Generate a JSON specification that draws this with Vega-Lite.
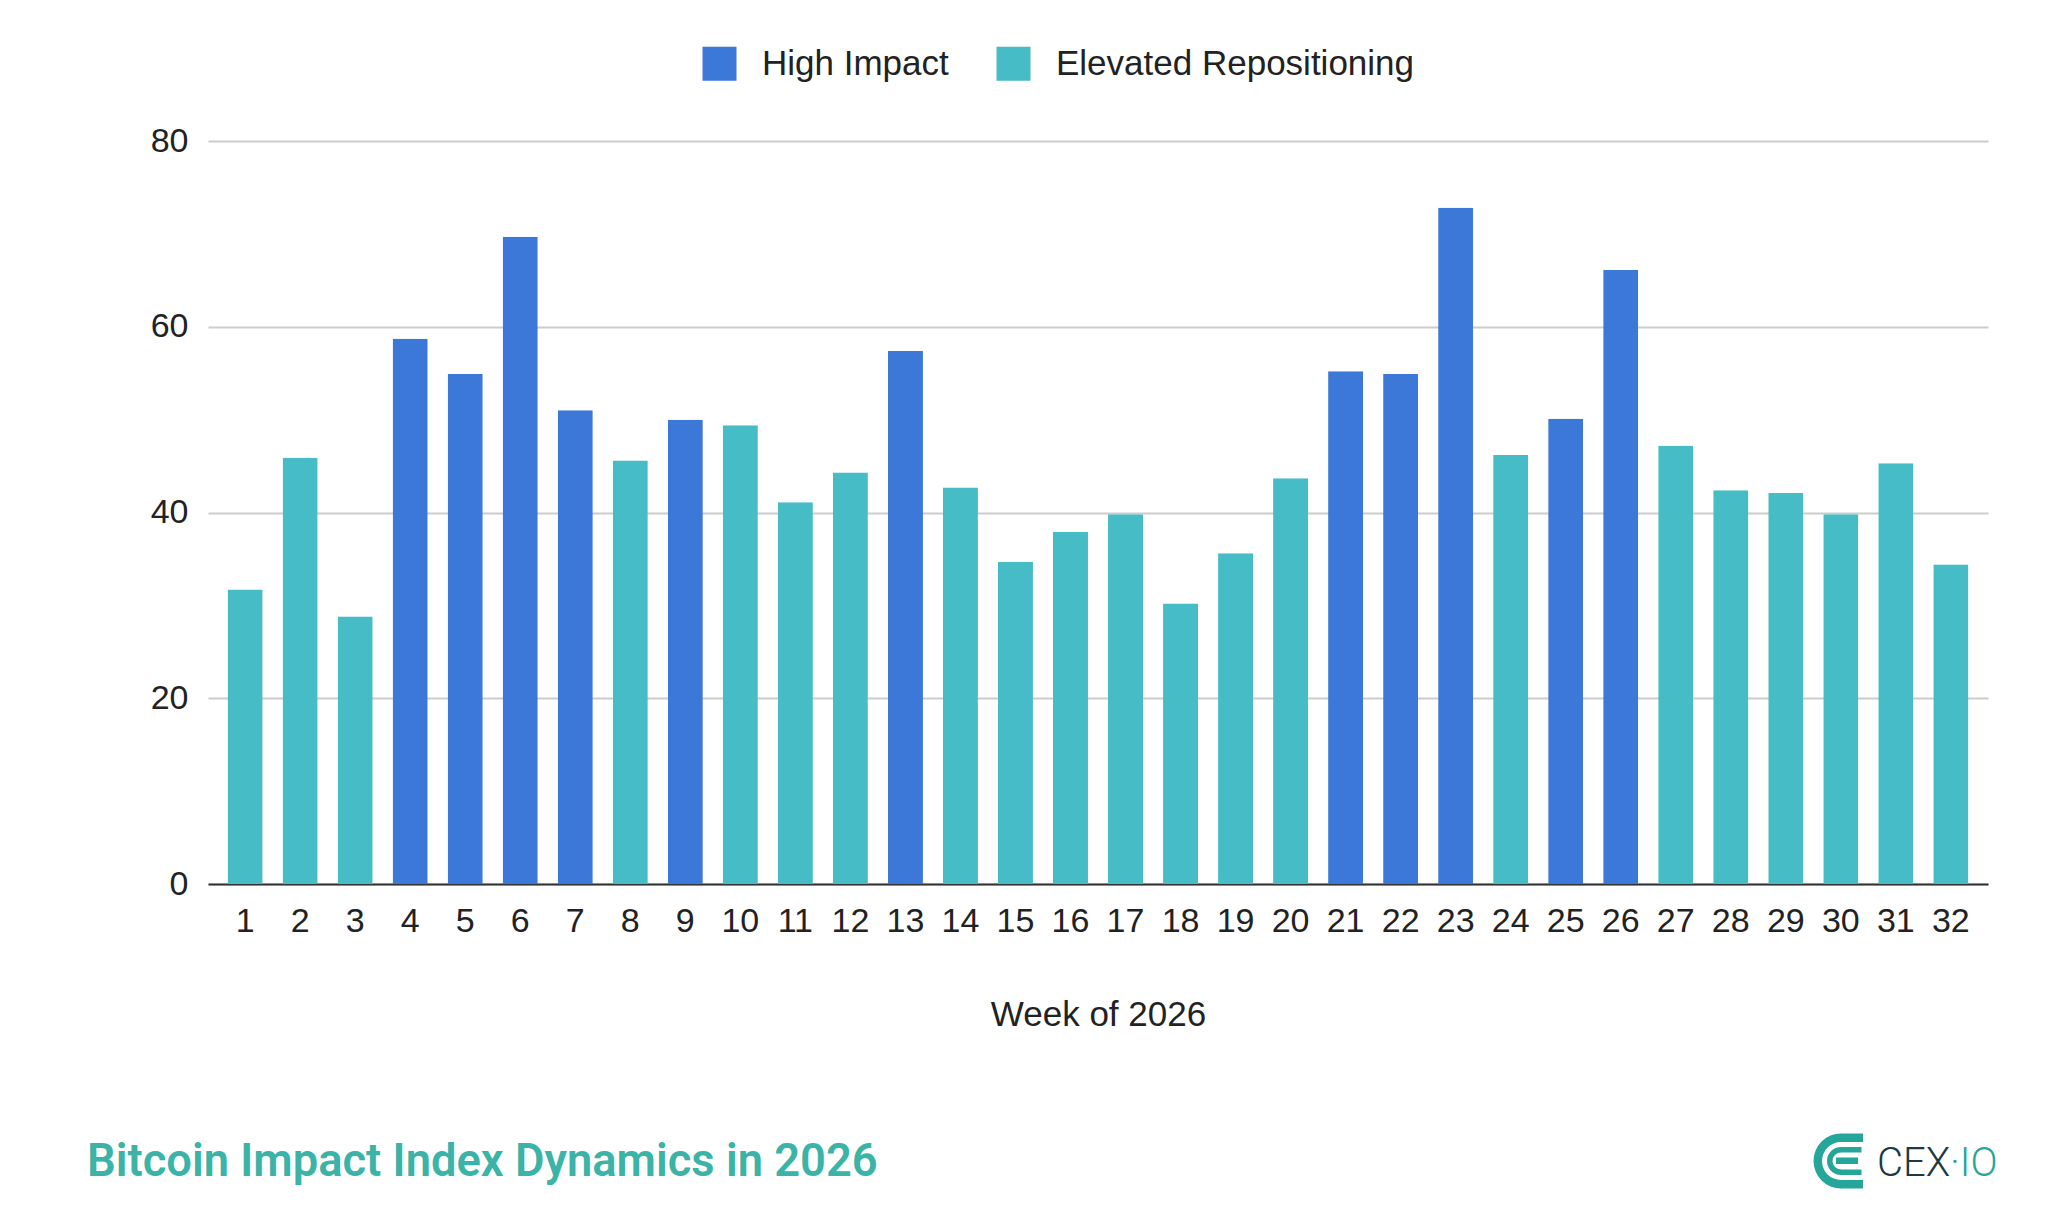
{
  "$schema": "https://vega.github.io/schema/vega-lite/v6.json",
  "width": 1780,
  "height": 743,
  "autosize": {"type": "none"},
  "padding": {"left": 208, "top": 141, "right": 60, "bottom": 328},
  "background": "white",
  "config": {
    "view": {"stroke": null},
    "font": "Liberation Sans"
  },
  "title": {
    "text": "Bitcoin Impact Index Dynamics in 2026",
    "orient": "bottom",
    "anchor": "start",
    "frame": "group",
    "dx": -121,
    "offset": -49,
    "baseline": "top",
    "font": "Roboto",
    "fontWeight": 600,
    "fontSize": 45.3,
    "color": "#3bb3a6"
  },
  "data": {
    "values": [
      {"Week": 1, "Index": 31.7, "Category": "Elevated Repositioning"},
      {"Week": 2, "Index": 45.9, "Category": "Elevated Repositioning"},
      {"Week": 3, "Index": 28.8, "Category": "Elevated Repositioning"},
      {"Week": 4, "Index": 58.7, "Category": "High Impact"},
      {"Week": 5, "Index": 54.9, "Category": "High Impact"},
      {"Week": 6, "Index": 69.7, "Category": "High Impact"},
      {"Week": 7, "Index": 51.0, "Category": "High Impact"},
      {"Week": 8, "Index": 45.6, "Category": "Elevated Repositioning"},
      {"Week": 9, "Index": 50.0, "Category": "High Impact"},
      {"Week": 10, "Index": 49.4, "Category": "Elevated Repositioning"},
      {"Week": 11, "Index": 41.1, "Category": "Elevated Repositioning"},
      {"Week": 12, "Index": 44.3, "Category": "Elevated Repositioning"},
      {"Week": 13, "Index": 57.4, "Category": "High Impact"},
      {"Week": 14, "Index": 42.7, "Category": "Elevated Repositioning"},
      {"Week": 15, "Index": 34.7, "Category": "Elevated Repositioning"},
      {"Week": 16, "Index": 37.9, "Category": "Elevated Repositioning"},
      {"Week": 17, "Index": 39.8, "Category": "Elevated Repositioning"},
      {"Week": 18, "Index": 30.2, "Category": "Elevated Repositioning"},
      {"Week": 19, "Index": 35.6, "Category": "Elevated Repositioning"},
      {"Week": 20, "Index": 43.7, "Category": "Elevated Repositioning"},
      {"Week": 21, "Index": 55.2, "Category": "High Impact"},
      {"Week": 22, "Index": 54.9, "Category": "High Impact"},
      {"Week": 23, "Index": 72.8, "Category": "High Impact"},
      {"Week": 24, "Index": 46.2, "Category": "Elevated Repositioning"},
      {"Week": 25, "Index": 50.1, "Category": "High Impact"},
      {"Week": 26, "Index": 66.1, "Category": "High Impact"},
      {"Week": 27, "Index": 47.2, "Category": "Elevated Repositioning"},
      {"Week": 28, "Index": 42.4, "Category": "Elevated Repositioning"},
      {"Week": 29, "Index": 42.1, "Category": "Elevated Repositioning"},
      {"Week": 30, "Index": 39.8, "Category": "Elevated Repositioning"},
      {"Week": 31, "Index": 45.3, "Category": "Elevated Repositioning"},
      {"Week": 32, "Index": 34.4, "Category": "Elevated Repositioning"}
    ]
  },
  "layer": [
    {
      "mark": {
        "type": "bar",
        "cornerRadiusTopLeft": {"expr": "datum.Category === 'High Impact' ? 5 : 0"},
        "cornerRadiusTopRight": {"expr": "datum.Category === 'High Impact' ? 5 : 0"}
      },
      "encoding": {
        "x": {
          "field": "Week",
          "type": "ordinal",
          "title": "Week of 2026",
          "scale": {"paddingInner": 0.364, "paddingOuter": 0.357},
          "axis": {
            "labelAngle": 0,
            "domain": true,
            "domainColor": "#333333",
            "domainWidth": 2,
            "ticks": false,
            "grid": false,
            "labelFont": "Liberation Sans",
            "labelFontSize": 34,
            "labelColor": "#222222",
            "labelPadding": 20,
            "titleFont": "Liberation Sans",
            "titleFontSize": 35,
            "titleFontWeight": "normal",
            "titleColor": "#222222",
            "titlePadding": 59
          }
        },
        "y": {
          "field": "Index",
          "type": "quantitative",
          "title": null,
          "scale": {"domain": [0, 80], "nice": false},
          "axis": {
            "values": [0, 20, 40, 60, 80],
            "grid": true,
            "gridColor": "#cccccc",
            "gridWidth": 2,
            "domain": false,
            "ticks": false,
            "labelFont": "Liberation Sans",
            "labelFontSize": 34,
            "labelColor": "#222222",
            "labelPadding": 20
          }
        },
        "color": {
          "field": "Category",
          "type": "nominal",
          "scale": {
            "domain": ["High Impact", "Elevated Repositioning"],
            "range": ["#3c78d8", "#46bdc6"]
          },
          "legend": {
            "title": null,
            "orient": "none",
            "direction": "horizontal",
            "legendX": 494,
            "legendY": -95,
            "padding": 0,
            "symbolType": "square",
            "symbolSize": 1156,
            "symbolStrokeWidth": 0,
            "labelFont": "Liberation Sans",
            "labelFontSize": 35,
            "labelColor": "#222222",
            "labelOffset": 25,
            "labelLimit": 600,
            "columnPadding": 47
          }
        }
      }
    },
    {
      "data": {"values": [{"t": "CEX"}]},
      "mark": {"type": "text", "x": 1669, "y": 1035, "align": "left", "baseline": "alphabetic", "font": "Roboto", "fontWeight": 300, "fontSize": 40, "color": "#1e3a40"},
      "encoding": {"text": {"field": "t"}}
    },
    {
      "data": {"values": [{"t": "·IO"}]},
      "mark": {"type": "text", "x": 1742, "y": 1035, "align": "left", "baseline": "alphabetic", "font": "Roboto", "fontWeight": 300, "fontSize": 40, "color": "#26a69a"},
      "encoding": {"text": {"field": "t"}}
    },
    {
      "data": {"values": [{}]},
      "mark": {"type": "arc", "x": 1633, "y": 1020, "innerRadius": 19, "outerRadius": 27.5, "theta": 3.14159, "theta2": 6.28318, "color": "#26a69a"},
      "encoding": {}
    },
    {
      "data": {"values": [{}]},
      "mark": {"type": "arc", "x": 1633, "y": 1020, "innerRadius": 8.5, "outerRadius": 14, "theta": 3.14159, "theta2": 6.28318, "color": "#26a69a"},
      "encoding": {}
    },
    {
      "data": {"values": [{}]},
      "mark": {"type": "rect", "x": 1632.5, "x2": 1655, "y": 992.5, "y2": 1001, "color": "#26a69a"},
      "encoding": {}
    },
    {
      "data": {"values": [{}]},
      "mark": {"type": "rect", "x": 1632.5, "x2": 1655, "y": 1039, "y2": 1047.5, "color": "#26a69a"},
      "encoding": {}
    },
    {
      "data": {"values": [{}]},
      "mark": {"type": "rect", "x": 1632.5, "x2": 1653.5, "y": 1006, "y2": 1011.5, "color": "#26a69a"},
      "encoding": {}
    },
    {
      "data": {"values": [{}]},
      "mark": {"type": "rect", "x": 1632.5, "x2": 1653.5, "y": 1028.5, "y2": 1034, "color": "#26a69a"},
      "encoding": {}
    },
    {
      "data": {"values": [{}]},
      "mark": {"type": "rect", "x": 1628, "x2": 1650, "y": 1016.5, "y2": 1023, "color": "#26a69a"},
      "encoding": {}
    }
  ]
}
